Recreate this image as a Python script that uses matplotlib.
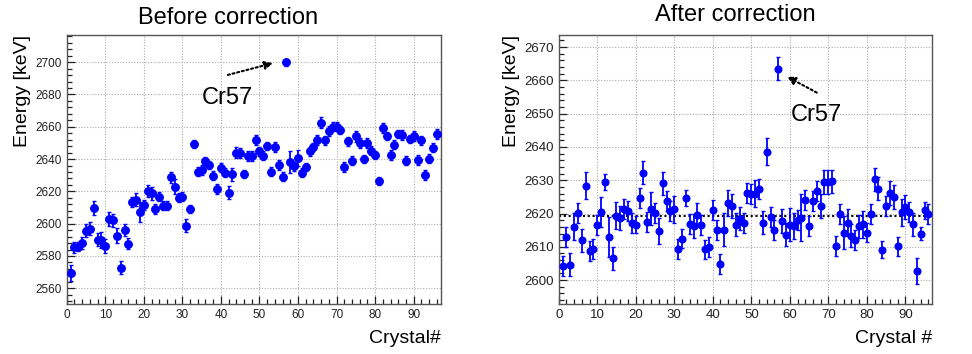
import matplotlib
matplotlib.use("Agg")
import matplotlib.pyplot as plt
from matplotlib.ticker import MultipleLocator

plt.rcParams['font.family'] = ['Liberation Sans', 'DejaVu Sans']

crystal = list(range(1, 97))

energy_before = [
    2569.5, 2585.4, 2585.8, 2588.0, 2595.7, 2597.0, 2609.8, 2590.0, 2590.0, 2586.2,
    2603.0, 2602.0, 2592.6, 2572.8, 2596.1, 2587.7, 2613.3, 2614.7, 2607.3, 2611.4,
    2620.3, 2618.8, 2608.9, 2616.8, 2611.2, 2611.2, 2628.6, 2623.0, 2616.2, 2616.8,
    2598.8, 2609.1, 2649.4, 2632.3, 2633.3, 2638.5, 2636.2, 2629.8, 2621.5, 2634.7,
    2631.6, 2619.3, 2630.6, 2644.0, 2643.8, 2630.6, 2641.8, 2642.0, 2651.9, 2644.7,
    2642.2, 2648.2, 2632.3, 2647.3, 2636.2, 2629.2, 2699.8, 2638.3, 2635.4, 2640.9,
    2631.6, 2635.0, 2644.7, 2647.3, 2651.9, 2662.6, 2651.5, 2657.5, 2660.1, 2660.1,
    2658.0, 2635.0, 2650.9, 2639.1, 2654.0, 2649.8, 2640.3, 2649.8, 2645.3, 2642.8,
    2626.7, 2659.1, 2654.4, 2642.4, 2649.0, 2655.6, 2654.8, 2639.1, 2652.7, 2654.4,
    2639.5, 2651.5, 2630.0, 2640.3, 2647.1, 2655.6,
]
err_before = [
    5, 3.5, 3, 3.5, 4, 4, 4.5, 4, 5, 4.5,
    4.5, 4, 4.5, 4, 3.5, 3.5, 3, 4, 6, 3,
    3.5, 4, 3, 3, 3, 3, 3.5, 4.5, 2.5, 3,
    4, 2.5, 2.5, 2.5, 3, 3, 2.5, 3, 3, 3,
    3, 4, 4, 3.5, 3, 2.5, 3, 3, 3, 3,
    3, 2.5, 3, 3, 3, 3, 2, 7, 3, 5,
    3, 2.5, 3, 2.5, 3, 3.5, 3, 3, 3, 3,
    2.5, 3, 3, 3, 3.5, 3, 2.5, 3, 3, 2.5,
    2.5, 3, 2.5, 3, 3, 2.5, 3, 2.5, 2.5, 3,
    3, 3, 3, 3, 3, 3,
]

energy_after = [
    2604.1, 2612.9, 2604.6, 2616.1, 2620.3, 2611.9, 2628.4, 2608.8, 2609.4, 2616.7,
    2620.5, 2629.5, 2613.0, 2606.5, 2619.4, 2618.7, 2621.4, 2620.9, 2617.2, 2616.7,
    2624.7, 2632.3, 2617.4, 2621.5, 2620.1, 2614.7, 2629.1, 2623.7, 2620.9, 2621.3,
    2609.3, 2612.5, 2624.7, 2617.0, 2616.3, 2619.7, 2616.7, 2609.2, 2609.9, 2621.0,
    2615.2, 2604.9, 2615.2, 2623.2, 2622.3, 2616.7, 2618.5, 2617.3, 2626.2, 2625.8,
    2626.0, 2627.5, 2617.3, 2638.6, 2619.0, 2615.2, 2663.5, 2617.8, 2613.7, 2616.7,
    2616.3, 2618.2, 2618.8, 2624.1, 2616.2, 2623.7, 2626.8, 2622.3, 2629.5, 2629.5,
    2629.7, 2610.3, 2619.8, 2614.2, 2617.3, 2613.3, 2612.0, 2616.2, 2616.8, 2614.3,
    2619.8, 2630.3, 2627.5, 2609.1, 2622.3, 2626.2, 2625.0, 2610.1, 2620.4, 2622.0,
    2620.5, 2616.8, 2602.7, 2614.0, 2621.0, 2619.8,
]
err_after = [
    3, 3, 3.5, 4, 3, 3.5, 4, 3, 3, 3,
    4.5, 2.5, 6, 3.5, 4, 3.5, 3, 3, 3, 2.5,
    3, 3.5, 3, 5, 3, 4, 3.5, 3, 3, 4,
    3, 3, 2.5, 3, 3.5, 3.5, 3, 3, 3, 3,
    3, 3, 5, 4, 3.5, 3.5, 3.5, 3, 3, 3,
    4, 3, 3.5, 4, 3, 3, 3.5, 3.5, 3.5, 5,
    4, 3, 7, 3, 3, 3, 3, 3.5, 3.5, 3.5,
    3.5, 3, 3, 5, 4, 3.5, 3, 3.5, 4, 3,
    3, 3.5, 3.5, 2.5, 3, 3.5, 3.5, 3, 4, 3.5,
    3, 3.5, 4, 2, 2.5, 3,
]
mean_after = 2619.3

fig = plt.figure(figsize=(9.72, 3.54), dpi=100)
ax1 = fig.add_axes([0.0686, 0.140, 0.3848, 0.762])
ax2 = fig.add_axes([0.5748, 0.140, 0.3844, 0.762])

blue = '#0000ff'
dots = (0, (1.0, 1.3))


def style_axis(ax, ymajor, yminor, tick_fs):
    ax.set_xlim(0, 97)
    ax.xaxis.set_major_locator(MultipleLocator(10))
    ax.xaxis.set_minor_locator(MultipleLocator(2))
    ax.yaxis.set_major_locator(MultipleLocator(ymajor))
    ax.yaxis.set_minor_locator(MultipleLocator(yminor))
    ax.tick_params(which='both', direction='in', top=False, right=False,
                   labelsize=tick_fs, colors='#222222')
    ax.tick_params(which='major', length=6, width=0.9)
    ax.tick_params(which='minor', length=3.5, width=0.9)
    ax.grid(True, which='major', color='#aaaaaa', linestyle=(0, (1, 1.5)),
            linewidth=0.8)
    ax.set_axisbelow(True)
    for s in ax.spines.values():
        s.set_color('#555555')
        s.set_linewidth(1.0)


def dotted_arrow(ax, tail, head):
    ax.annotate('', xy=head, xytext=tail,
                arrowprops=dict(arrowstyle='-|>', color='k', lw=1.5,
                                linestyle=dots, mutation_scale=12,
                                shrinkA=0, shrinkB=0))


# Before correction
ax1.errorbar(crystal, energy_before, yerr=err_before, fmt='o', color=blue,
             ms=5.4, elinewidth=1.3, capsize=1.2, capthick=1.0, zorder=3)
ax1.set_ylim(2550, 2717)
style_axis(ax1, 20, 4, 8.5)
ax1.set_ylabel('Energy [keV]', fontsize=14, loc='top', labelpad=3)
ax1.set_xlabel('Crystal#', fontsize=14, loc='right', labelpad=6)
dotted_arrow(ax1, (41.8, 2692.1), (53.5, 2699.4))
ax1.text(35.0, 2674.2, 'Cr57', fontsize=17, ha='left', va='baseline')

# After correction
ax2.errorbar(crystal, energy_after, yerr=err_after, fmt='o', color=blue,
             ms=4.8, elinewidth=1.3, capsize=1.2, capthick=1.0, zorder=3)
ax2.axhline(mean_after, color='k', linestyle=dots, linewidth=1.5, zorder=2)
ax2.set_ylim(2592.7, 2673.7)
style_axis(ax2, 10, 2, 9.5)
ax2.set_ylabel('Energy [keV]', fontsize=14, loc='top', labelpad=3)
ax2.set_xlabel('Crystal #', fontsize=14, loc='right', labelpad=6)
dotted_arrow(ax2, (67.0, 2656.3), (59.3, 2661.1))
ax2.text(60.2, 2647.9, 'Cr57', fontsize=17, ha='left', va='baseline')

fig.text(228 / 972, 1 - 24 / 354, 'Before correction', fontsize=17,
         ha='center', va='baseline')
fig.text(735 / 972, 1 - 21 / 354, 'After correction', fontsize=17,
         ha='center', va='baseline')

fig.savefig('out.png', dpi=100)
